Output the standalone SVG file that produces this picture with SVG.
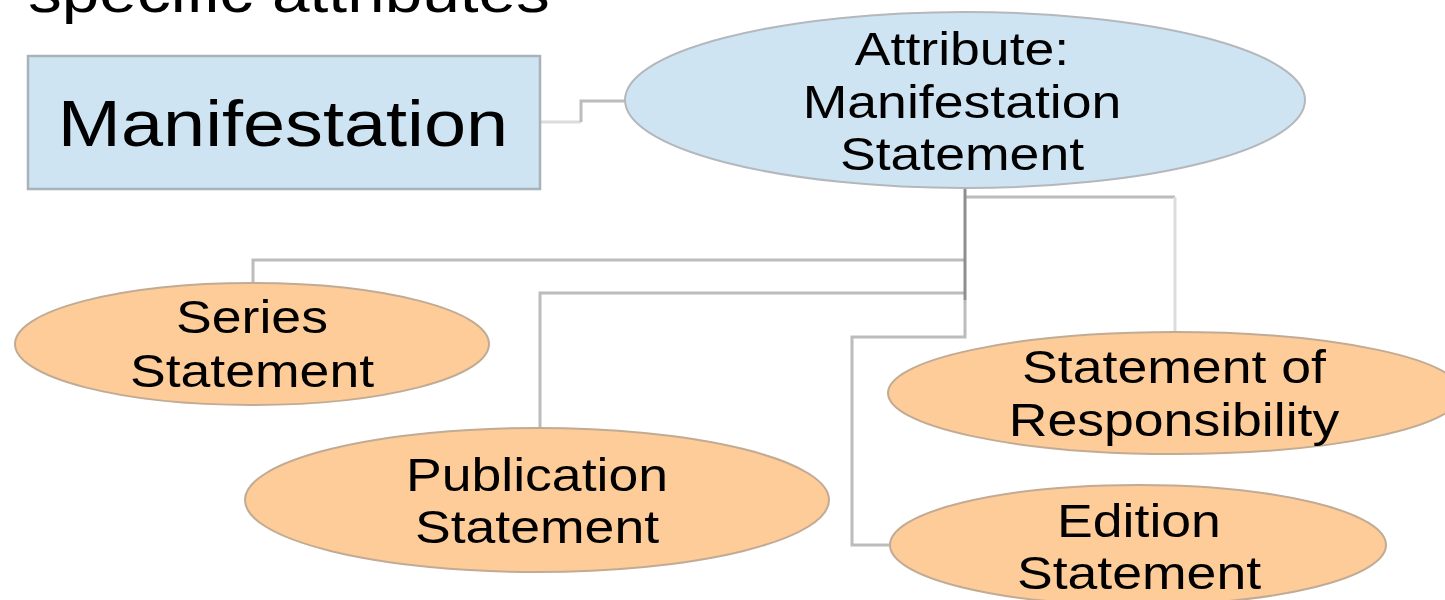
<svg xmlns="http://www.w3.org/2000/svg" width="1445" height="600" viewBox="0 0 1445 600">
<style>
.t{font-family:"Liberation Sans",Arial,sans-serif;font-size:46px;fill:#000;text-anchor:middle}
.big{font-size:65px}
.title{font-size:58px;text-anchor:start}
.blue{fill:#cfe4f2;stroke:#a9b2ba;stroke-width:2.5}
.ell{fill:#cfe4f2;stroke:#b4b8bc;stroke-width:2}
.org{fill:#fdcc98;stroke:#c2ab94;stroke-width:2}
.c{fill:none;stroke:#bcbcbc;stroke-width:3}
.cd{fill:none;stroke:#8e8e8e;stroke-width:3}
.cl{fill:none;stroke:#dcdcdc;stroke-width:3}
</style>
<rect width="1445" height="600" fill="#fff"/>
<text class="t title" transform="translate(28,12) scale(1.165,1)">specific attributes</text>
<g id="connectors">
<path class="cl" d="M540 122 H581"/>
<path class="c" d="M581 122 V101 H625"/>
<path class="c" d="M965 197 H1175"/>
<path class="cl" d="M1175 197 V332"/>
<path class="c" d="M965 260 H253 V283"/>
<path class="c" d="M965 293 H540 V428"/>
<path class="c" d="M965 300 V337 H852 V545 H890"/>
<path class="cd" d="M965 188 V300"/>
</g>
<g id="manifestation">
<rect class="blue" x="28" y="56" width="512" height="133"/>
<text class="t big" transform="translate(283,146) scale(1.165,1)">Manifestation</text>
</g>
<g id="attribute">
<ellipse class="ell" cx="965" cy="100" rx="340" ry="88"/>
<text class="t" transform="translate(962,65) scale(1.165,1)">Attribute:</text>
<text class="t" transform="translate(962,118) scale(1.165,1)">Manifestation</text>
<text class="t" transform="translate(962,170) scale(1.165,1)">Statement</text>
</g>
<g id="series">
<ellipse class="org" cx="252" cy="344" rx="237" ry="61"/>
<text class="t" transform="translate(252,333) scale(1.165,1)">Series</text>
<text class="t" transform="translate(252,387) scale(1.165,1)">Statement</text>
</g>
<g id="publication">
<ellipse class="org" cx="537" cy="500" rx="292" ry="72"/>
<text class="t" transform="translate(537,491) scale(1.165,1)">Publication</text>
<text class="t" transform="translate(537,543) scale(1.165,1)">Statement</text>
</g>
<g id="responsibility">
<ellipse class="org" cx="1175" cy="393" rx="287" ry="61"/>
<text class="t" transform="translate(1174,383) scale(1.165,1)">Statement  of</text>
<text class="t" transform="translate(1174,436) scale(1.165,1)">Responsibility</text>
</g>
<g id="edition">
<ellipse class="org" cx="1138" cy="545" rx="248" ry="60"/>
<text class="t" transform="translate(1139,537) scale(1.165,1)">Edition</text>
<text class="t" transform="translate(1139,589) scale(1.165,1)">Statement</text>
</g>
</svg>
